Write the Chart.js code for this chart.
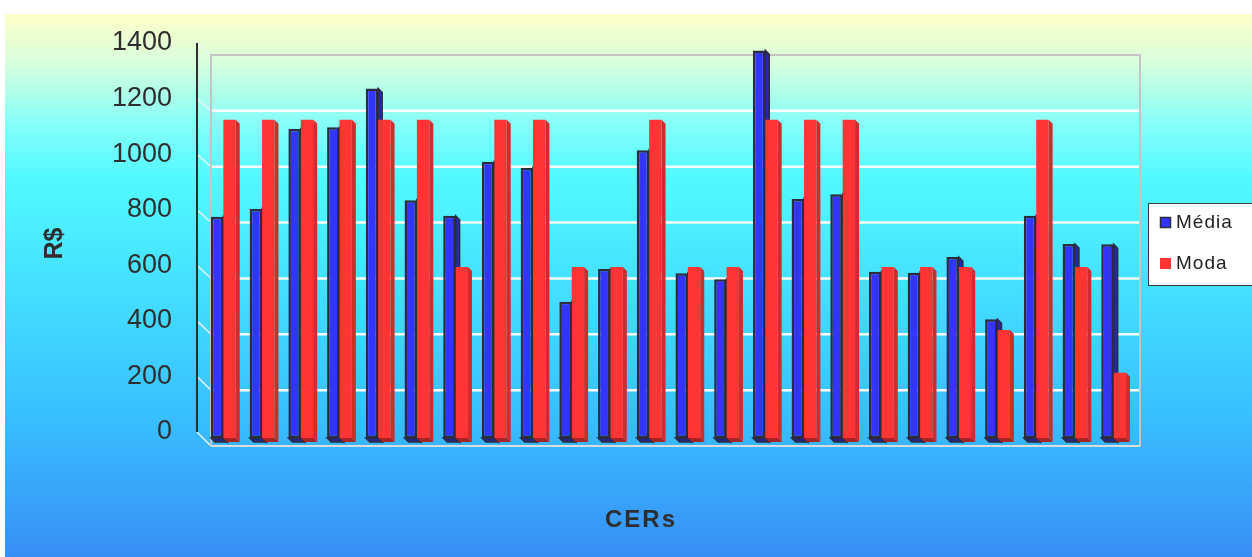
<!DOCTYPE html>
<html>
<head>
<meta charset="utf-8">
<script src="https://cdn.jsdelivr.net/npm/chart.js@4.4.1/dist/chart.umd.min.js"></script>
<style>
  html, body { margin: 0; padding: 0; background: #fff; overflow: hidden; }
  #wrap { width: 1252px; height: 557px; position: relative; }
</style>
</head>
<body>
<div id="wrap"><canvas id="c" width="1252" height="557"></canvas></div>
<script>
// Average and mode (R$) per CER
const cers  = ['CER 1','CER 2','CER 3','CER 4','CER 5','CER 6','CER 7','CER 8','CER 9','CER 10','CER 11','CER 12',
               'CER 13','CER 14','CER 15','CER 16','CER 17','CER 18','CER 19','CER 20','CER 21','CER 22','CER 23','CER 24'];
const media = [796, 824, 1112, 1118, 1258, 856, 800, 994, 973, 490, 608, 1036,
               593, 571, 1395, 860, 877, 598, 595, 651, 427, 800, 698, 697];
const moda  = [1145, 1145, 1145, 1145, 1145, 1145, 615, 1145, 1145, 615, 615, 1145,
               615, 615, 1145, 1145, 1145, 615, 615, 615, 389, 1145, 615, 235];
const yTicks = [0, 200, 400, 600, 800, 1000, 1200, 1400];

const FONT = '"Liberation Sans", Arial, sans-serif';

// Gradient backdrop with a thin white margin on top and left
const backdrop = {
  id: 'backdrop',
  beforeDraw(chart) {
    const { ctx, width, height } = chart;
    ctx.save();
    ctx.fillStyle = '#ffffff';
    ctx.fillRect(0, 0, width, height);
    const g = ctx.createLinearGradient(0, 14, 0, height);
    g.addColorStop(0.00, 'rgb(255,255,200)');
    g.addColorStop(0.09, 'rgb(215,255,220)');
    g.addColorStop(0.20, 'rgb(135,255,248)');
    g.addColorStop(0.30, 'rgb(82,250,255)');
    g.addColorStop(0.50, 'rgb(68,224,255)');
    g.addColorStop(0.75, 'rgb(56,190,255)');
    g.addColorStop(1.00, 'rgb(56,142,245)');
    ctx.fillStyle = g;
    ctx.fillRect(5, 14, width - 5, height - 14);
    ctx.restore();
  }
};

// Walls, floor and gridlines of the box, plus depth faces of the columns
const box3d = {
  id: 'box3d',
  beforeDatasetsDraw(chart) {
    const { ctx, chartArea: a, scales: { y } } = chart;
    const backDy = v => 8 - 2 * v / 1400;
    const dx = 7, frontX = a.left - 7, frontDy = -6;
    ctx.save();
    // back wall gridlines
    ctx.strokeStyle = '#ffffff';
    ctx.lineWidth = 2.5;
    yTicks.forEach(v => {
      if (v === 0 || v === 1400) return;
      const py = y.getPixelForValue(v) + backDy(v);
      ctx.beginPath();
      ctx.moveTo(a.left + dx, py);
      ctx.lineTo(a.right + dx, py);
      ctx.stroke();
    });
    // side-wall connectors from the front edge to the back wall
    ctx.strokeStyle = 'rgba(235,245,245,0.95)';
    ctx.lineWidth = 1.5;
    yTicks.forEach(v => {
      const p = y.getPixelForValue(v);
      ctx.beginPath();
      ctx.moveTo(frontX, p + frontDy);
      ctx.lineTo(a.left + dx, p + backDy(v));
      ctx.stroke();
    });
    // back wall outline and floor edge
    const top = y.getPixelForValue(1400) + backDy(1400);
    const bot = y.getPixelForValue(0) + backDy(0);
    ctx.strokeStyle = '#c4c4c4';
    ctx.lineWidth = 2;
    ctx.beginPath();
    ctx.moveTo(a.left + dx, bot);
    ctx.lineTo(a.left + dx, top);
    ctx.lineTo(a.right + dx, top);
    ctx.lineTo(a.right + dx, bot);
    ctx.stroke();
    ctx.strokeStyle = '#dcdcdc';
    ctx.beginPath();
    ctx.moveTo(a.left + dx, bot);
    ctx.lineTo(a.right + dx, bot);
    ctx.stroke();
    // front vertical axis edge
    ctx.strokeStyle = '#2e2e2e';
    ctx.lineWidth = 2;
    ctx.beginPath();
    ctx.moveTo(frontX, y.getPixelForValue(1400) + frontDy);
    ctx.lineTo(frontX, y.getPixelForValue(0) + frontDy);
    ctx.stroke();

    // depth faces of the columns (side and underside)
    const d = 4;
    chart.data.datasets.forEach((ds, i) => {
      const meta = chart.getDatasetMeta(i);
      meta.data.forEach(bar => {
        const { x, y: ty, base, width } = bar.getProps(['x', 'y', 'base', 'width'], true);
        const l = x - width / 2, r = x + width / 2;
        ctx.fillStyle = ds.sideColor;
        ctx.strokeStyle = ds.edgeColor;
        ctx.lineWidth = ds.edgeWidth;
        ctx.beginPath();
        ctx.moveTo(r, ty);
        ctx.lineTo(r + d, ty + d);
        ctx.lineTo(r + d, base + d);
        ctx.lineTo(r, base);
        ctx.closePath();
        ctx.fill();
        if (ds.edgeWidth) ctx.stroke();
        ctx.fillStyle = ds.underColor;
        ctx.beginPath();
        ctx.moveTo(l, base);
        ctx.lineTo(r, base);
        ctx.lineTo(r + d, base + d);
        ctx.lineTo(l + d, base + d);
        ctx.closePath();
        ctx.fill();
        if (ds.edgeWidth) ctx.stroke();
      });
    });
    ctx.restore();
  }
};

// Legend box and the horizontal axis caption
const extras = {
  id: 'extras',
  afterDraw(chart) {
    const { ctx } = chart;
    ctx.save();
    ctx.fillStyle = '#ffffff';
    ctx.fillRect(1148, 203, 110, 82);
    ctx.strokeStyle = '#3a3a3a';
    ctx.lineWidth = 1;
    ctx.strokeRect(1148.5, 203.5, 110, 82);
    const rows = [222, 263];
    chart.data.datasets.forEach((ds, i) => {
      const cy = rows[i];
      ctx.fillStyle = ds.backgroundColor;
      ctx.fillRect(1160, cy - 5, 11, 11);
      if (ds.borderWidth) {
        ctx.strokeStyle = ds.borderColor;
        ctx.lineWidth = 1.5;
        ctx.strokeRect(1160.5, cy - 4.5, 10, 10);
      }
      ctx.fillStyle = '#222222';
      ctx.font = '19px ' + FONT;
      ctx.textAlign = 'left';
      ctx.textBaseline = 'middle';
      if ('letterSpacing' in ctx) ctx.letterSpacing = '1px';
      ctx.fillText(ds.label, 1176, cy + 1);
    });
    ctx.fillStyle = '#2e2e2e';
    ctx.font = 'bold 24px ' + FONT;
    ctx.textAlign = 'center';
    ctx.textBaseline = 'middle';
    if ('letterSpacing' in ctx) ctx.letterSpacing = '2px';
    ctx.fillText('CERs', 641, 520);
    ctx.restore();
  }
};

new Chart(document.getElementById('c'), {
  type: 'bar',
  data: {
    labels: cers,
    datasets: [
      {
        label: 'Média',
        data: media,
        backgroundColor: '#3434ff',
        borderColor: '#2c2c3c',
        borderWidth: 2.5,
        borderSkipped: false,
        sideColor: '#2626b4',
        underColor: '#262680',
        edgeColor: '#2c2c3c',
        edgeWidth: 1.5
      },
      {
        label: 'Moda',
        data: moda,
        backgroundColor: '#ff3434',
        borderWidth: 0,
        sideColor: '#d02c2c',
        underColor: '#a82424',
        edgeColor: '#c02828',
        edgeWidth: 0
      }
    ]
  },
  options: {
    responsive: false,
    devicePixelRatio: 1,
    animation: false,
    events: [],
    categoryPercentage: 0.64,
    barPercentage: 1.0,
    layout: { padding: { left: 5, top: 49, right: 119, bottom: 119 } },
    plugins: {
      legend: { display: false },
      tooltip: { enabled: false }
    },
    scales: {
      x: {
        display: false
      },
      y: {
        min: 0,
        max: 1400,
        afterFit(s) { s.width = 199; },
        afterBuildTicks(s) { s.ticks = yTicks.map(v => ({ value: v })); },
        grid: { display: false, drawTicks: false },
        border: { display: false },
        ticks: {
          padding: 32,
          labelOffset: -6,
          color: '#2e2e2e',
          font: { family: FONT, size: 27 },
          callback: v => String(v)
        },
        title: {
          display: true,
          text: 'R$',
          color: '#2e2e2e',
          font: { family: FONT, size: 25, weight: 'bold' },
          padding: { top: 35, bottom: 0 }
        }
      }
    }
  },
  plugins: [backdrop, box3d, extras]
});
</script>
</body>
</html>
